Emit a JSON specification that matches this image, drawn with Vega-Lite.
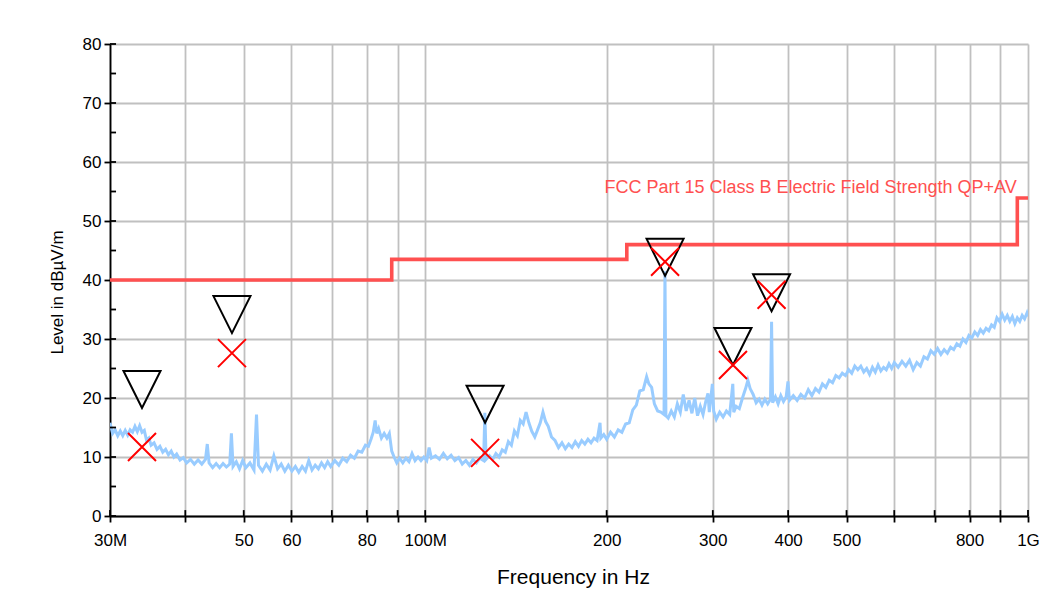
{
  "$schema": "https://vega.github.io/schema/vega-lite/v6.json",
  "width": 918,
  "height": 472,
  "autosize": {"type": "none"},
  "padding": {"left": 110, "top": 44, "right": 30, "bottom": 74},
  "background": "white",
  "config": {
    "font": "Liberation Sans",
    "view": {"stroke": null},
    "axis": {
      "grid": true,
      "gridColor": "#c0c0c0",
      "gridWidth": 1.8,
      "domainColor": "#000000",
      "domainWidth": 1.8,
      "tickColor": "#000000",
      "tickWidth": 1.8,
      "tickSize": 6,
      "labelColor": "#000000",
      "labelFontSize": 17,
      "labelOverlap": false,
      "labelFlush": false,
      "titleColor": "#000000",
      "titleFontWeight": "normal"
    }
  },
  "datasets": {
    "trace": [
      {"f":30.0,"v":15.8},{"f":30.3,"v":14.0},{"f":30.6,"v":14.6},{"f":30.9,"v":13.6},{"f":31.2,"v":14.4},{"f":31.5,"v":13.6},{"f":31.8,"v":14.5},{"f":32.1,"v":13.7},{"f":32.4,"v":14.6},{"f":32.7,"v":14.2},{"f":33.0,"v":15.2},{"f":33.3,"v":14.3},{"f":33.6,"v":15.3},{"f":33.9,"v":14.2},{"f":34.2,"v":14.5},{"f":34.5,"v":12.8},{"f":34.8,"v":13.2},{"f":35.1,"v":12.0},{"f":35.5,"v":12.4},{"f":35.9,"v":11.3},{"f":36.3,"v":11.8},{"f":36.7,"v":10.8},{"f":37.1,"v":11.3},{"f":37.5,"v":10.4},{"f":37.9,"v":11.0},{"f":38.3,"v":10.0},{"f":38.7,"v":10.5},{"f":39.2,"v":9.5},{"f":39.7,"v":9.9},{"f":40.2,"v":9.0},
      {"f":40.8,"v":9.6},{"f":41.4,"v":8.8},{"f":42.0,"v":9.5},{"f":42.6,"v":8.8},{"f":43.2,"v":9.6},{"f":43.5,"v":12.2},{"f":43.8,"v":9.0},{"f":44.4,"v":8.2},{"f":45.0,"v":8.9},{"f":45.6,"v":8.2},{"f":46.2,"v":8.9},{"f":46.8,"v":8.3},{"f":47.4,"v":8.8},{"f":47.7,"v":14.0},{"f":48.0,"v":8.4},{"f":48.6,"v":9.2},{"f":49.2,"v":8.0},{"f":49.8,"v":9.4},{"f":50.4,"v":8.2},
      {"f":51.2,"v":9.0},{"f":52.0,"v":7.8},{"f":52.5,"v":17.2},{"f":52.9,"v":8.6},{"f":53.7,"v":7.6},{"f":54.5,"v":8.8},{"f":55.3,"v":7.8},{"f":56.1,"v":10.2},{"f":56.9,"v":8.0},{"f":57.7,"v":8.8},{"f":58.5,"v":7.6},{"f":59.3,"v":8.6},{"f":60.1,"v":7.6},{"f":60.9,"v":8.4},{"f":61.7,"v":7.4},{"f":62.5,"v":8.4},{"f":63.3,"v":7.6},{"f":64.1,"v":9.4},{"f":64.9,"v":7.8},{"f":65.7,"v":8.6},{"f":66.5,"v":8.0},{"f":67.3,"v":9.0},{"f":68.1,"v":8.2},{"f":68.9,"v":9.2},{"f":69.7,"v":8.4},
      {"f":70.8,"v":9.4},{"f":71.9,"v":8.6},{"f":73.0,"v":9.8},{"f":74.1,"v":9.2},{"f":75.2,"v":10.3},{"f":76.3,"v":9.8},{"f":77.4,"v":11.0},{"f":78.5,"v":10.8},{"f":79.6,"v":12.0},{"f":80.5,"v":11.8},{"f":81.3,"v":13.0},{"f":82.0,"v":14.2},{"f":82.6,"v":16.2},{"f":83.1,"v":14.0},{"f":83.7,"v":14.8},{"f":84.6,"v":13.2},{"f":85.5,"v":14.0},{"f":86.4,"v":13.2},{"f":87.2,"v":14.0},{"f":88.0,"v":11.0},{"f":88.8,"v":10.0},{"f":89.7,"v":9.0},{"f":90.7,"v":9.8},{"f":91.8,"v":9.0},{"f":92.9,"v":9.8},{"f":94.0,"v":9.2},{"f":95.1,"v":10.6},{"f":96.2,"v":9.4},{"f":97.3,"v":10.0},{"f":98.4,"v":9.4},{"f":99.5,"v":10.0},
      {"f":100.6,"v":9.4},{"f":101.5,"v":11.6},{"f":102.4,"v":9.8},{"f":104.0,"v":10.2},{"f":105.6,"v":9.6},{"f":107.2,"v":10.6},{"f":108.8,"v":9.7},{"f":110.4,"v":10.3},{"f":112.0,"v":9.4},{"f":113.6,"v":9.9},{"f":115.2,"v":8.8},{"f":116.8,"v":9.4},{"f":118.4,"v":8.6},{"f":120.0,"v":9.6},{"f":121.6,"v":9.0},{"f":123.2,"v":9.8},{"f":125.0,"v":9.4},{"f":125.6,"v":17.5},{"f":126.2,"v":9.6},{"f":127.8,"v":10.2},{"f":129.4,"v":9.6},{"f":131.0,"v":10.6},{"f":132.6,"v":10.0},{"f":134.2,"v":11.2},{"f":135.8,"v":10.8},{"f":137.4,"v":12.6},{"f":139.0,"v":12.0},{"f":140.6,"v":14.4},{"f":142.2,"v":13.6},{"f":143.8,"v":16.2},{"f":145.4,"v":15.6},{"f":147.0,"v":17.6},{"f":148.6,"v":15.8},{"f":150.2,"v":14.4},
      {"f":152.0,"v":13.4},{"f":153.6,"v":14.6},{"f":155.2,"v":15.8},{"f":156.8,"v":17.6},{"f":158.4,"v":16.0},{"f":160.0,"v":15.2},{"f":162.0,"v":13.4},{"f":164.2,"v":12.8},{"f":166.4,"v":11.6},{"f":168.6,"v":12.4},{"f":170.8,"v":11.4},{"f":173.0,"v":12.2},{"f":175.2,"v":11.6},{"f":177.4,"v":12.6},{"f":179.6,"v":11.8},{"f":181.8,"v":12.8},{"f":184.0,"v":12.2},{"f":186.2,"v":13.0},{"f":188.4,"v":12.4},{"f":190.6,"v":13.2},{"f":192.8,"v":12.8},{"f":195.0,"v":15.8},{"f":195.6,"v":13.2},{"f":197.8,"v":13.8},{"f":200.0,"v":13.0},
      {"f":203.0,"v":14.2},{"f":206.0,"v":13.4},{"f":209.0,"v":14.6},{"f":212.0,"v":14.2},{"f":215.0,"v":15.6},{"f":218.0,"v":15.8},{"f":221.0,"v":18.0},{"f":224.0,"v":18.8},{"f":227.0,"v":21.2},{"f":230.0,"v":21.4},{"f":233.0,"v":23.6},{"f":235.0,"v":22.4},{"f":237.5,"v":21.8},{"f":240.0,"v":19.0},{"f":243.0,"v":17.8},{"f":246.0,"v":17.6},{"f":249.0,"v":17.2},{"f":249.9,"v":41.5},{"f":250.8,"v":17.0},{"f":253.0,"v":16.6},{"f":256.0,"v":17.8},{"f":259.0,"v":16.8},{"f":262.0,"v":19.0},{"f":265.0,"v":17.6},{"f":268.0,"v":20.6},{"f":271.0,"v":17.8},{"f":274.0,"v":19.6},{"f":277.0,"v":17.4},{"f":280.0,"v":20.0},{"f":283.0,"v":17.0},{"f":286.0,"v":18.6},{"f":289.0,"v":17.2},{"f":292.0,"v":19.4},{"f":294.5,"v":20.8},{"f":296.0,"v":17.6},{"f":299.5,"v":22.4},{"f":301.0,"v":17.8},{"f":304.0,"v":16.4},
      {"f":308.0,"v":17.6},{"f":312.0,"v":16.8},{"f":316.0,"v":17.8},{"f":320.0,"v":17.2},{"f":323.8,"v":22.4},{"f":325.0,"v":17.6},{"f":328.0,"v":18.6},{"f":332.0,"v":18.2},{"f":336.0,"v":20.0},{"f":340.0,"v":21.6},{"f":343.0,"v":23.0},{"f":346.0,"v":21.6},{"f":350.0,"v":20.6},{"f":354.0,"v":19.2},{"f":358.0,"v":19.8},{"f":362.0,"v":18.8},{"f":366.0,"v":19.8},{"f":370.0,"v":19.0},{"f":374.0,"v":19.8},{"f":375.5,"v":32.9},{"f":377.0,"v":19.2},{"f":381.0,"v":20.2},{"f":385.0,"v":19.0},{"f":389.0,"v":20.4},{"f":393.0,"v":19.4},{"f":397.0,"v":20.2},{"f":399.8,"v":22.8},{"f":402.0,"v":19.6},
      {"f":408,"v":20.4},{"f":414,"v":19.6},{"f":420,"v":20.6},{"f":426,"v":20.0},{"f":432,"v":21.4},{"f":438,"v":20.4},{"f":444,"v":21.6},{"f":450,"v":21.0},{"f":456,"v":22.4},{"f":462,"v":21.8},{"f":468,"v":23.0},{"f":474,"v":22.6},{"f":480,"v":23.8},{"f":486,"v":23.4},{"f":492,"v":24.2},{"f":498,"v":23.8},{"f":504,"v":24.8},{"f":510,"v":24.2},{"f":516,"v":25.4},{"f":522,"v":24.8},{"f":528,"v":25.4},{"f":534,"v":24.4},{"f":540,"v":25.0},{"f":546,"v":24.0},{"f":552,"v":25.2},{"f":558,"v":24.4},{"f":564,"v":25.6},{"f":570,"v":24.6},{"f":576,"v":25.2},{"f":582,"v":24.8},{"f":588,"v":25.8},{"f":594,"v":25.0},{"f":600,"v":26.0},
      {"f":609,"v":25.2},{"f":618,"v":26.2},{"f":627,"v":25.4},{"f":636,"v":26.4},{"f":645,"v":24.8},{"f":654,"v":26.0},{"f":663,"v":25.4},{"f":672,"v":27.0},{"f":681,"v":26.6},{"f":690,"v":28.0},{"f":699,"v":27.4},{"f":708,"v":28.4},{"f":717,"v":27.4},{"f":726,"v":28.2},{"f":735,"v":27.6},{"f":744,"v":28.6},{"f":753,"v":28.2},{"f":762,"v":29.2},{"f":771,"v":28.8},{"f":780,"v":30.0},{"f":789,"v":29.4},{"f":798,"v":30.6},{"f":807,"v":30.2},{"f":816,"v":31.2},{"f":825,"v":30.6},{"f":834,"v":31.6},{"f":843,"v":31.0},{"f":852,"v":31.8},{"f":861,"v":31.4},{"f":870,"v":32.4},{"f":879,"v":32.0},{"f":888,"v":33.6},{"f":897,"v":33.0},{"f":906,"v":34.2},{"f":915,"v":33.2},{"f":924,"v":34.0},{"f":933,"v":33.0},{"f":942,"v":33.8},{"f":951,"v":32.6},{"f":960,"v":33.6},{"f":969,"v":33.0},{"f":978,"v":34.0},{"f":987,"v":33.4},{"f":996,"v":34.4},{"f":1000,"v":33.8}
    ],
    "limit": [
      {"f":30,"v":40},{"f":88,"v":43.5},{"f":216,"v":46},{"f":960,"v":53.9},{"f":1000,"v":53.9}
    ],
    "label": [
      {"f":958,"v":55.6,"t":"FCC Part 15 Class B Electric Field Strength QP+AV"}
    ],
    "peak": [
      {"f":33.9,"v":18.3},{"f":47.8,"v":31.0},{"f":125.7,"v":15.8},{"f":250,"v":40.7},{"f":324,"v":25.6},{"f":375.5,"v":34.7}
    ],
    "final": [
      {"f":33.9,"v":11.7},{"f":47.8,"v":27.6},{"f":125.7,"v":10.7},{"f":250,"v":43.1},{"f":324,"v":25.6},{"f":375.5,"v":37.5}
    ],
    "xticks": [
      {"f":30},{"f":40},{"f":50},{"f":60},{"f":70},{"f":80},{"f":90},{"f":100},{"f":200},{"f":300},{"f":400},{"f":500},{"f":600},{"f":700},{"f":800},{"f":900},{"f":1000}
    ],
    "yticks": [
      {"v":0},{"v":5},{"v":10},{"v":15},{"v":20},{"v":25},{"v":30},{"v":35},{"v":40},{"v":45},{"v":50},{"v":55},{"v":60},{"v":65},{"v":70},{"v":75},{"v":80}
    ]
  },
  "layer": [
    {
      "data": {"name": "trace"},
      "mark": {"type": "line", "color": "#99ccff", "strokeWidth": 3, "clip": true},
      "encoding": {
        "x": {
          "field": "f", "type": "quantitative",
          "scale": {"type": "log", "domain": [30, 1000], "nice": false},
          "axis": {
            "values": [30,40,50,60,70,80,90,100,200,300,400,500,600,700,800,900,1000],
            "labelExpr": "datum.value == 30 ? '30M' : datum.value == 100 ? '100M' : datum.value == 1000 ? '1G' : (datum.value == 40 || datum.value == 70 || datum.value == 90 || datum.value == 600 || datum.value == 700 || datum.value == 900) ? '' : datum.label",
            "format": "d",
            "labelPadding": 10,
            "title": "Frequency in Hz",
            "titleFontSize": 21,
            "titleBaseline": "alphabetic",
            "titleY": 67,
            "titleX": 463
          }
        },
        "y": {
          "field": "v", "type": "quantitative",
          "scale": {"domain": [0, 80], "nice": false},
          "axis": {
            "values": [0,5,10,15,20,25,30,35,40,45,50,55,60,65,70,75,80],
            "labelExpr": "datum.value % 10 == 0 ? datum.label : ''",
            "labelPadding": 3,
            "title": "Level in dBµV/m",
            "titleFontSize": 17,
            "titleBaseline": "alphabetic",
            "titleAngle": -90,
            "titleAlign": "center",
            "titleX": -48,
            "titleY": 248
          }
        }
      }
    },
    {
      "data": {"name": "xticks"},
      "mark": {"type": "rule", "color": "#000000", "strokeWidth": 1.8},
      "encoding": {
        "x": {"field": "f", "type": "quantitative"},
        "y": {"datum": 0},
        "y2": {"datum": 1}
      }
    },
    {
      "data": {"name": "yticks"},
      "mark": {"type": "rule", "color": "#000000", "strokeWidth": 1.8},
      "encoding": {
        "y": {"field": "v", "type": "quantitative"},
        "x": {"datum": 30},
        "x2": {"datum": 30.7}
      }
    },
    {
      "data": {"name": "limit"},
      "mark": {"type": "line", "color": "#ff5050", "strokeWidth": 3.6, "interpolate": "step-after"},
      "encoding": {
        "x": {"field": "f", "type": "quantitative"},
        "y": {"field": "v", "type": "quantitative"}
      }
    },
    {
      "data": {"name": "label"},
      "mark": {"type": "text", "align": "right", "baseline": "middle", "color": "#ff5050", "fontSize": 18},
      "encoding": {
        "x": {"field": "f", "type": "quantitative"},
        "y": {"field": "v", "type": "quantitative"},
        "text": {"field": "t"}
      }
    },
    {
      "data": {"name": "peak"},
      "mark": {"type": "point", "shape": "M-1,-2L1,-2L0,0Z", "size": 1369, "stroke": "#000000", "strokeWidth": 2, "filled": false, "opacity": 1},
      "encoding": {
        "x": {"field": "f", "type": "quantitative"},
        "y": {"field": "v", "type": "quantitative"}
      }
    },
    {
      "data": {"name": "final"},
      "mark": {"type": "point", "shape": "M-1,-1L1,1M-1,1L1,-1", "size": 784, "stroke": "#ff0000", "strokeWidth": 2, "filled": false, "opacity": 1},
      "encoding": {
        "x": {"field": "f", "type": "quantitative"},
        "y": {"field": "v", "type": "quantitative"}
      }
    }
  ]
}
